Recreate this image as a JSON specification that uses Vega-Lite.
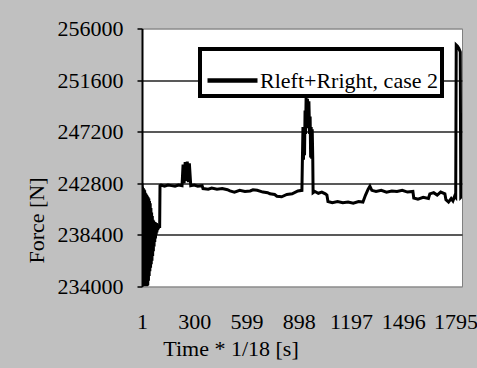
{
  "$schema": "https://vega.github.io/schema/vega-lite/v6.json",
  "width": 320,
  "height": 258,
  "autosize": {"type": "none"},
  "padding": {"left": 142, "top": 28.5, "right": 15, "bottom": 81.5},
  "background": "#c0c0c0",
  "config": {
    "view": {"fill": "white", "stroke": "#808080", "strokeWidth": 1},
    "font": "Liberation Serif",
    "legend": {"strokeWidth": 4}
  },
  "data": {
    "values": [
      {"t": 1, "f": 242800}, {"t": 2, "f": 234000}, {"t": 4, "f": 242500}, {"t": 6, "f": 234000},
      {"t": 8, "f": 242400}, {"t": 10, "f": 234000}, {"t": 12, "f": 242300}, {"t": 14, "f": 234000},
      {"t": 16, "f": 242200}, {"t": 18, "f": 234000}, {"t": 20, "f": 242000}, {"t": 22, "f": 234000},
      {"t": 24, "f": 241900}, {"t": 26, "f": 234000}, {"t": 28, "f": 241800}, {"t": 30, "f": 234050},
      {"t": 32, "f": 241700}, {"t": 34, "f": 234100}, {"t": 36, "f": 241600}, {"t": 38, "f": 234500},
      {"t": 40, "f": 241500}, {"t": 42, "f": 234900}, {"t": 44, "f": 241300}, {"t": 46, "f": 235300},
      {"t": 48, "f": 241100}, {"t": 50, "f": 235600}, {"t": 52, "f": 240700}, {"t": 54, "f": 235900},
      {"t": 56, "f": 240300}, {"t": 58, "f": 236200}, {"t": 60, "f": 240000}, {"t": 62, "f": 236600},
      {"t": 64, "f": 239700}, {"t": 66, "f": 237000}, {"t": 68, "f": 239600}, {"t": 70, "f": 237400},
      {"t": 72, "f": 239500}, {"t": 74, "f": 237800}, {"t": 76, "f": 239500}, {"t": 78, "f": 238100},
      {"t": 80, "f": 239400}, {"t": 82, "f": 238400}, {"t": 84, "f": 239400}, {"t": 86, "f": 238600},
      {"t": 88, "f": 239300}, {"t": 90, "f": 238800}, {"t": 92, "f": 239300}, {"t": 94, "f": 238900},
      {"t": 96, "f": 239200}, {"t": 98, "f": 239000}, {"t": 100, "f": 239200}, {"t": 102, "f": 239000},
      {"t": 104, "f": 242600}, {"t": 110, "f": 242650}, {"t": 130, "f": 242550}, {"t": 150, "f": 242650},
      {"t": 170, "f": 242600}, {"t": 190, "f": 242550}, {"t": 210, "f": 242650}, {"t": 230, "f": 242600},
      {"t": 236, "f": 244400}, {"t": 242, "f": 242800}, {"t": 248, "f": 244600}, {"t": 254, "f": 243000},
      {"t": 260, "f": 244650}, {"t": 266, "f": 242900}, {"t": 272, "f": 244500}, {"t": 280, "f": 242600},
      {"t": 300, "f": 242650}, {"t": 320, "f": 242550}, {"t": 345, "f": 242600}, {"t": 350, "f": 242350},
      {"t": 380, "f": 242300}, {"t": 400, "f": 242400}, {"t": 430, "f": 242300}, {"t": 460, "f": 242350},
      {"t": 490, "f": 242250}, {"t": 504, "f": 242150}, {"t": 530, "f": 242050}, {"t": 560, "f": 242200},
      {"t": 590, "f": 242100}, {"t": 620, "f": 242150}, {"t": 636, "f": 242250}, {"t": 660, "f": 242200},
      {"t": 693, "f": 242050}, {"t": 720, "f": 242000}, {"t": 733, "f": 241900}, {"t": 760, "f": 241850},
      {"t": 773, "f": 241700}, {"t": 800, "f": 241650}, {"t": 830, "f": 241850}, {"t": 860, "f": 241900},
      {"t": 893, "f": 242150}, {"t": 916, "f": 242200}, {"t": 919, "f": 245000}, {"t": 922, "f": 247600},
      {"t": 925, "f": 244800}, {"t": 928, "f": 247500}, {"t": 931, "f": 245200}, {"t": 934, "f": 249000},
      {"t": 937, "f": 247000}, {"t": 940, "f": 250100}, {"t": 944, "f": 248000}, {"t": 948, "f": 250000},
      {"t": 952, "f": 247500}, {"t": 956, "f": 249800}, {"t": 960, "f": 247000}, {"t": 963, "f": 248500},
      {"t": 966, "f": 245000}, {"t": 969, "f": 247600}, {"t": 972, "f": 244900}, {"t": 975, "f": 247400},
      {"t": 978, "f": 245000}, {"t": 980, "f": 242000}, {"t": 990, "f": 242100}, {"t": 1010, "f": 241950},
      {"t": 1030, "f": 242050}, {"t": 1050, "f": 241900}, {"t": 1059, "f": 241800}, {"t": 1065, "f": 241250},
      {"t": 1090, "f": 241150}, {"t": 1120, "f": 241250}, {"t": 1150, "f": 241150}, {"t": 1180, "f": 241200},
      {"t": 1210, "f": 241100}, {"t": 1240, "f": 241250}, {"t": 1265, "f": 241200}, {"t": 1280, "f": 241800},
      {"t": 1295, "f": 242300}, {"t": 1305, "f": 242550}, {"t": 1316, "f": 242200}, {"t": 1340, "f": 242100},
      {"t": 1370, "f": 242200}, {"t": 1400, "f": 242050}, {"t": 1430, "f": 242150}, {"t": 1460, "f": 242100},
      {"t": 1490, "f": 242200}, {"t": 1520, "f": 242050}, {"t": 1551, "f": 242100}, {"t": 1556, "f": 241550},
      {"t": 1580, "f": 241450}, {"t": 1610, "f": 241600}, {"t": 1640, "f": 241500}, {"t": 1648, "f": 241900},
      {"t": 1670, "f": 242000}, {"t": 1690, "f": 241800}, {"t": 1710, "f": 242050}, {"t": 1734, "f": 241900},
      {"t": 1740, "f": 241400}, {"t": 1755, "f": 241200}, {"t": 1770, "f": 241500}, {"t": 1780, "f": 241300},
      {"t": 1790, "f": 241700}, {"t": 1796, "f": 241600}, {"t": 1799, "f": 254600}, {"t": 1806, "f": 254500},
      {"t": 1814, "f": 254300}, {"t": 1822, "f": 254000}, {"t": 1825, "f": 241600}, {"t": 1832, "f": 241700}
    ]
  },
  "transform": [{"calculate": "'Rleft+Rright, case 2'", "as": "s"}],
  "mark": {"type": "line", "strokeWidth": 3, "clip": true},
  "encoding": {
    "x": {
      "field": "t",
      "type": "quantitative",
      "scale": {"domain": [1, 1832], "nice": false, "zero": false},
      "axis": {
        "title": "Time * 1/18 [s]",
        "values": [1, 300, 599, 898, 1197, 1496, 1795],
        "format": "d",
        "grid": false,
        "domain": false,
        "ticks": false,
        "tickSize": 0,
        "labelPadding": 25,
        "labelFont": "Liberation Serif",
        "labelFontSize": 22,
        "labelColor": "black",
        "labelFlush": false,
        "labelOverlap": false,
        "titleFont": "Liberation Serif",
        "titleFontSize": 22,
        "titleFontWeight": "normal",
        "titleColor": "black",
        "titleX": 88.5,
        "titleY": 69,
        "titleAlign": "center",
        "titleBaseline": "alphabetic",
        "titleAnchor": null
      }
    },
    "y": {
      "field": "f",
      "type": "quantitative",
      "scale": {"domain": [234000, 256000], "nice": false, "zero": false},
      "axis": {
        "title": "Force [N]",
        "values": [234000, 238400, 242800, 247200, 251600, 256000],
        "format": "d",
        "grid": true,
        "gridColor": {"condition": {"test": "datum.value == 256000 || datum.value == 234000", "value": "#909090"}, "value": "#222222"},
        "gridWidth": {"condition": {"test": "datum.value == 256000 || datum.value == 234000", "value": 1}, "value": 1.6},
        "domainColor": "black",
        "domainWidth": 2,
        "tickColor": "black",
        "tickWidth": 1.5,
        "tickSize": 5,
        "labelPadding": 14,
        "labelFont": "Liberation Serif",
        "labelFontSize": 22,
        "labelColor": "black",
        "labelBaseline": "middle",
        "labelFlush": false,
        "labelOverlap": false,
        "titleFont": "Liberation Serif",
        "titleFontSize": 22,
        "titleFontWeight": "normal",
        "titleColor": "black",
        "titleAngle": 270,
        "titleX": -105.6,
        "titleY": 191.5,
        "titleAlign": "center",
        "titleBaseline": "middle",
        "titleAnchor": null
      }
    },
    "color": {
      "field": "s",
      "type": "nominal",
      "scale": {"range": ["black"]},
      "legend": {
        "title": null,
        "orient": "none",
        "legendX": 58,
        "legendY": 20.5,
        "symbolType": "stroke",
        "symbolSize": 2500,
        "symbolStrokeWidth": 4.5,
        "symbolStrokeColor": "black",
        "symbolOffset": 1,
        "labelFont": "Liberation Serif",
        "labelFontSize": 22,
        "labelColor": "black",
        "labelOffset": 0,
        "labelLimit": 400,
        "padding": 4,
        "strokeColor": "black",
        "fillColor": "white"
      }
    }
  }
}
